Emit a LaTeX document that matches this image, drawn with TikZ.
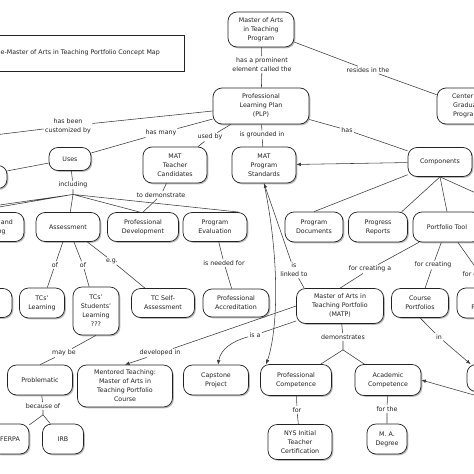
\documentclass[tikz,border=0pt]{standalone}
\usepackage{fontspec}
\setmainfont{DejaVu Sans}
\usetikzlibrary{shadows,arrows.meta}
\definecolor{ink}{HTML}{222222}
\definecolor{edge}{HTML}{3A3A3A}
\tikzset{
  cn/.style={draw=ink, line width=0.7pt, fill=white, rounded corners=9pt, align=center, inner sep=1pt,
    font=\fontsize{6.3}{9}\selectfont, text=ink,
    drop shadow={shadow xshift=1.3pt, shadow yshift=-1.3pt, fill=black!60, opacity=0.45}},
  tbox/.style={draw=ink, line width=0.7pt, fill=white,
    drop shadow={shadow xshift=1.3pt, shadow yshift=-1.3pt, fill=black!60, opacity=0.45}},
  sz/.style 2 args={minimum width=#1pt, minimum height=#2pt},
  lb/.style={align=center, inner sep=1.2pt, font=\fontsize{6.3}{9}\selectfont, text=ink},
  ln/.style={draw=edge, line width=0.55pt},
  ar/.style={ln, -{Latex[length=4.5pt,width=3.6pt]}},
}
\begin{document}
\begin{tikzpicture}[x=1pt,y=-1pt]
\useasboundingbox (0,0) rectangle (474,474);
\clip (0,0) rectangle (474,474);
\fill[white] (0,0) rectangle (474,474);
% title
\node[tbox, sz={214}{36}] (tb) at (77,53) {};
\node[lb, anchor=west, inner sep=0pt] (tt) at (0.5,53) {e-Master of Arts in Teaching Portfolio Concept Map};
% concepts
\node[cn, sz={66}{35}] (map) at (261,29.5) {Master of Arts\\in Teaching\\Program};
\node[cn, sz={96}{36}] (plp) at (261,106) {Professional\\Learning Plan\\(PLP)};
\node[cn, sz={62}{36}] (cgp) at (468,106) {Center for\\Graduate\\Programs};
\node[cn, sz={64}{23}] (lfa) at (-25,177) {};
\node[cn, sz={42}{23}] (uses) at (70,159) {Uses};
\node[cn, sz={64}{36}] (mtc) at (175,165) {MAT\\Teacher\\Candidates};
\node[cn, sz={64}{36}] (mps) at (264,165) {MAT\\Program\\Standards};
\node[cn, sz={64}{29}] (comp) at (440,162) {Components};
\node[cn, sz={64}{29}] (tl) at (-8,227) {Teaching and\\Learning};
\node[cn, sz={64}{29}] (assess) at (68,227) {Assessment};
\node[cn, sz={71}{29}] (pdev) at (143,227) {Professional\\Development};
\node[cn, sz={64}{29}] (peval) at (215,227) {Program\\Evaluation};
\node[cn, sz={58}{30}] (pdoc) at (314,227) {Program\\Documents};
\node[cn, sz={59}{30}] (prep) at (378,227) {Progress\\Reports};
\node[cn, sz={68}{30}] (ptool) at (447,227) {Portfolio Tool};
\node[cn, sz={64}{29}] (lfb) at (-20,303) {};
\node[cn, sz={45}{30}] (tcl) at (42,303) {TCs'\\Learning};
\node[cn, sz={46}{48}] (tsl) at (96,311) {TCs'\\Students'\\Learning\\???};
\node[cn, sz={63}{29}] (tcsa) at (163,303) {TC Self-\\Assessment};
\node[cn, sz={66}{28}] (pacc) at (236,303) {Professional\\Accreditation};
\node[cn, sz={87}{35}] (matp) at (340,306) {Master of Arts in\\Teaching Portfolio\\(MATP)};
\node[cn, sz={57}{29}] (cport) at (420,303) {Course\\Portfolios};
\node[cn, sz={58}{30}] (pport) at (486,303) {Unit\\Portfolios};
\node[cn, sz={65}{30}] (prob) at (40,380) {Problematic};
\node[cn, sz={95}{42}] (ment) at (125,386) {Mentored Teaching:\\Master of Arts in\\Teaching Portfolio\\Course};
\node[cn, sz={65}{30}] (cap) at (216,380) {Capstone\\Project};
\node[cn, sz={71}{31}] (pcomp) at (296,380) {Professional\\Competence};
\node[cn, sz={66}{31}] (acomp) at (388,380) {Academic\\Competence};
\node[cn, sz={66}{27}] (rr) at (500,378) {};
\node[cn, sz={38}{30}] (ferpa) at (10,439) {FERPA};
\node[cn, sz={41}{30}] (irb) at (63,439) {IRB};
\node[cn, sz={64}{35}] (nys) at (300,442) {NYS Initial\\Teacher\\Certification};
\node[cn, sz={40}{30}] (mad) at (387,439) {M. A.\\Degree};
% linking phrases
\node[lb] (l1) at (262,64.5) {has a prominent\\element called the};
\node[lb] (l2) at (368,70) {resides in the};
\node[lb] (l3) at (347,130) {has};
\node[lb] (l4) at (262,135) {is grounded in};
\node[lb] (l5) at (210,137) {used by};
\node[lb] (l6) at (161,133) {has many};
\node[lb] (l7) at (68,126) {has been\\customized by};
\node[lb] (l8) at (73,185) {including};
\node[lb] (l9) at (161,195) {to demonstrate};
\node[lb] (l10) at (55,265) {of};
\node[lb] (l11) at (83,265) {of};
\node[lb] (l12) at (112,261) {e.g.};
\node[lb] (l13) at (224,263) {is needed for};
\node[lb] (l14) at (294,270) {is\\linked to};
\node[lb] (l15) at (370,269) {for creating a};
\node[lb] (l16) at (433,265) {for creating};
\node[lb] (l17) at (481,275) {for creating};
\node[lb] (l18) at (439,337) {in};
\node[lb] (l19) at (343,337) {demonstrates};
\node[lb] (l20) at (255,335) {is a};
\node[lb] (l21) at (160,353) {developed in};
\node[lb] (l22) at (64,353) {may be};
\node[lb] (l23) at (43,406) {because of};
\node[lb] (l24) at (297,410) {for};
\node[lb] (l25) at (387,409) {for the};
% free ends
\coordinate (oc) at (-30,138);
\coordinate (ol1) at (-70,215);
\coordinate (ol2) at (-48,215);
\coordinate (or1) at (520,213);
\coordinate (oa) at (530,411);
\coordinate (j8) at ([yshift=-5pt]l8.south);
\coordinate (j19) at ([yshift=-9pt]l19.south);
\coordinate (j23) at ([yshift=-5pt]l23.south);
% connectors
\draw[ln] (map) -- (l1) -- (plp);
\draw[ln] (map) -- (l2) -- (cgp);
\draw[ln] (plp) -- (l3) -- (comp);
\draw[ln] (plp) -- (l4) -- (mps);
\draw[ln] (plp) -- (l5) -- (mtc);
\draw[ln] (plp) -- (l6) -- (uses);
\draw[ln] (plp) -- (l7) -- (oc);
\draw[ln] (uses) -- (lfa);
\draw[ln] (uses) -- (l8) -- (j8);
\draw[ln] (j8) -- (ol1) (j8) -- (ol2) (j8) -- (assess) (j8) -- ([xshift=-3pt]pdev.north) (j8) -- ([xshift=-8pt]peval.north east);
\draw[ln] (mtc) -- (l9) -- (pdev.north);
\draw[ln] (assess) -- (l10) -- (tcl);
\draw[ln] (assess) -- (l11) -- (tsl);
\draw[ln] (assess) -- (l12) -- (tcsa);
\draw[ln] (peval) -- (l13) -- (pacc);
\draw[ar] (comp) -- (mps);
\draw[ln] (comp) -- (pdoc.north);
\draw[ln] (comp.south) -- ([xshift=-6pt]prep.north east);
\draw[ln] (comp.south) -- (ptool.north);
\draw[ln] (comp.south) -- (or1);
\draw[ln] (ptool) -- (l15) -- (matp.north);
\draw[ln] (ptool) -- (l16) -- (cport);
\draw[ln] (ptool) -- (l17) -- (pport);
\draw[ar] (cport.south) -- (l18) -- ([xshift=4pt]rr.north west);
\draw[ar] (oa) -- (acomp.east);
\draw[ln] (matp) -- (l19) -- (j19);
\draw[ln] (j19) -- (pcomp) (j19) -- (acomp);
\draw[ln] (matp) -- (l20);
\draw[ar] (l20) to[out=195,in=80] ([xshift=2pt]cap.north);
\draw[ar] (matp.west) -- (l21) -- (ment.north);
\draw[ar] ([xshift=8pt]matp.north west) -- (l14) -- (mps.south);
\draw[ar] (mps.south) .. controls (280,260) and (278,330) .. ([xshift=6pt]pcomp.north west);
\draw[ln] (tsl.south) -- (l22) -- (prob.north);
\draw[ln] (prob) -- (l23) -- (j23);
\draw[ln] (j23) -- (ferpa) (j23) -- (irb);
\draw[ln] (pcomp) -- (l24) -- (nys);
\draw[ln] (acomp) -- (l25) -- (mad);
\end{tikzpicture}
\end{document}
